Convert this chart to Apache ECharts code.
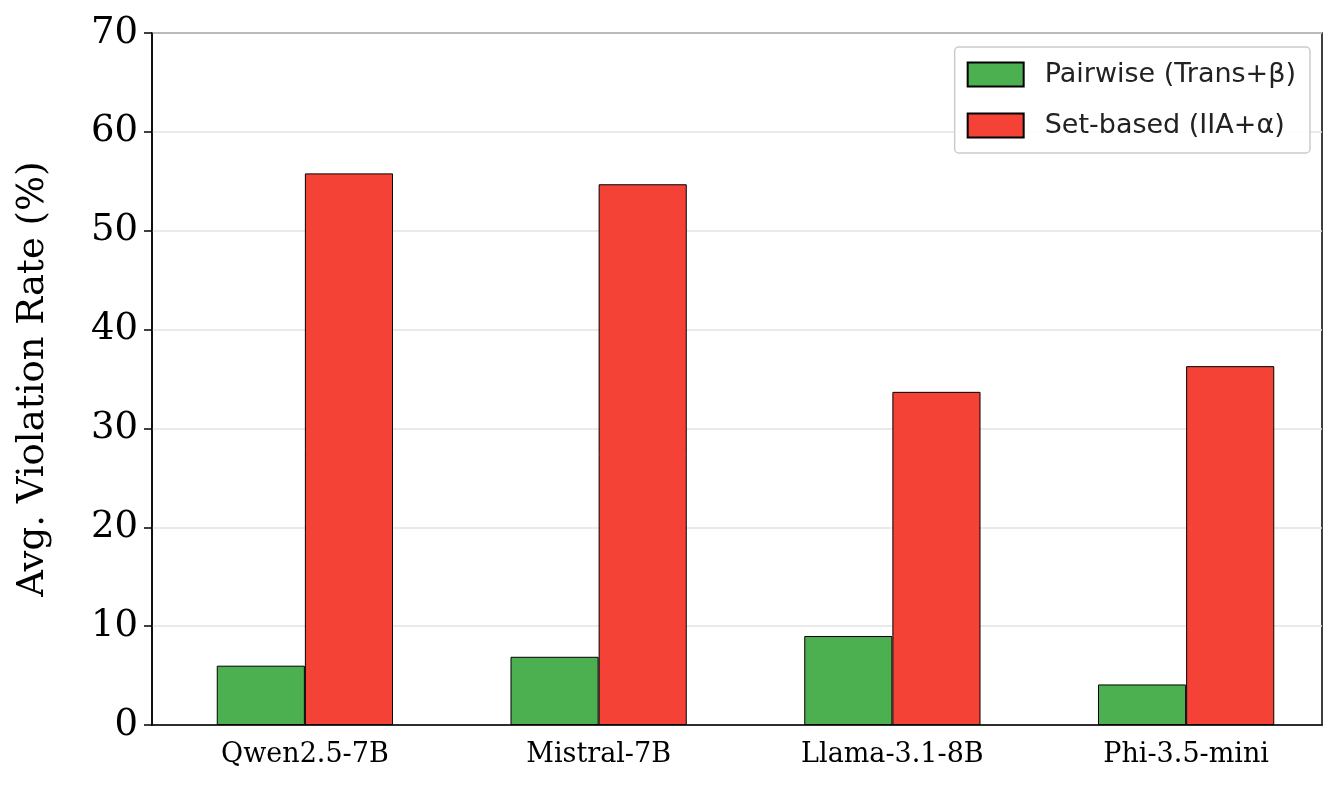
<!DOCTYPE html>
<html><head><meta charset="utf-8">
<script src="https://cdn.jsdelivr.net/npm/echarts@6/dist/echarts.min.js"></script>
<style>html,body{margin:0;padding:0;background:#fff}#c{width:1342px;height:802px}</style>
</head><body><div id="c"></div>
<script>
const categories = ['Qwen2.5-7B','Mistral-7B','Llama-3.1-8B','Phi-3.5-mini'];
const pairwise = [6.0, 6.9, 9.0, 4.1];
const setBased = [55.8, 54.7, 33.7, 36.3];
const chart = echarts.init(document.getElementById('c'));
chart.setOption({
  animation:false,
  grid:[
    {left:158,right:9,top:33,bottom:77,show:false},
    {left:152,right:20,top:33,bottom:77,show:true,borderColor:'#000',borderWidth:1.5}
  ],
  legend:{
    orient:'vertical', right:32, top:47, itemWidth:56, itemHeight:24, itemGap:24, icon:'rect',
    padding:[14,14,14,12], borderColor:'#ccc', borderWidth:1.5, borderRadius:4,
    backgroundColor:'rgba(255,255,255,0.9)',
    textStyle:{fontFamily:'DejaVu Sans',fontSize:27,color:'#222',padding:[0,0,0,16]},
    data:['Pairwise (Trans+β)','Set-based (IIA+α)']
  },
  xAxis:[
    {type:'category',data:categories,gridIndex:0,
     axisLine:{show:false},axisTick:{show:false},
     axisLabel:{fontFamily:'DejaVu Serif',fontSize:27,color:'#000',margin:16}},
    {type:'value',gridIndex:1,min:0,max:1,axisLine:{show:true,lineStyle:{color:'#000',width:1.5}},
     axisTick:{show:false},axisLabel:{show:false},splitLine:{show:false}}
  ],
  yAxis:[
    {type:'value',gridIndex:0,min:0,max:70,interval:10,show:false,splitLine:{show:false}},
    {type:'value',gridIndex:1,min:0,max:70,interval:10,
    name:'Avg. Violation Rate (%)',nameLocation:'middle',nameGap:100,
    nameTextStyle:{fontFamily:'DejaVu Serif',fontSize:37,color:'#000'},
    axisLine:{show:true,lineStyle:{color:'#000',width:1.5}},
    axisTick:{show:true,length:8,lineStyle:{color:'#000',width:1.5}},
    axisLabel:{fontFamily:'DejaVu Serif',fontSize:37,color:'#000',margin:14},
    splitLine:{lineStyle:{color:'#e3e3e3',width:1.5}}}
  ],
  series:[
    {name:'Pairwise (Trans+β)',type:'bar',data:pairwise,barGap:'0%',barCategoryGap:'40%',
     itemStyle:{color:'#4caf50',borderColor:'#000',borderWidth:1}},
    {name:'Set-based (IIA+α)',type:'bar',data:setBased,
     itemStyle:{color:'#f44336',borderColor:'#000',borderWidth:1}}
  ]
});
</script></body></html>
